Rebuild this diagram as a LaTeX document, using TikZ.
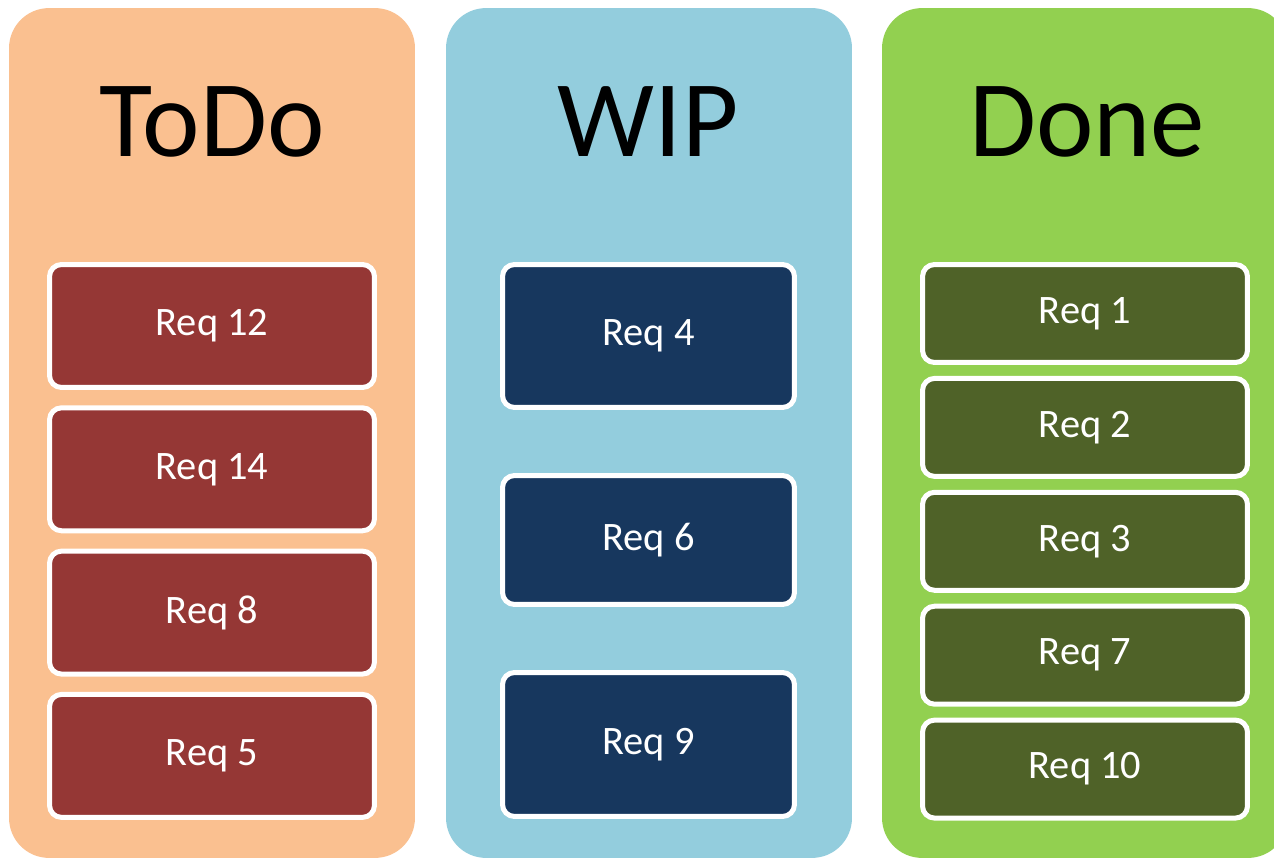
\documentclass[tikz,border=0pt]{standalone}
\usepackage{fontspec}
\setmainfont{Carlito}
\usetikzlibrary{positioning}

\definecolor{todobg}{HTML}{FAC090}
\definecolor{wipbg}{HTML}{93CDDD}
\definecolor{donebg}{HTML}{92D050}
\definecolor{todocard}{HTML}{953735}
\definecolor{wipcard}{HTML}{17375E}
\definecolor{donecard}{HTML}{4F6228}

\begin{document}
\begin{tikzpicture}[x=0.02cm, y=-0.02cm,
    column/.style={rounded corners=0.8cm, minimum width=8.12cm, minimum height=17cm, inner sep=0pt},
    title/.style={anchor=base, font=\fontsize{62}{70}\selectfont},
    card/.style={draw=white, line width=0.1cm, rounded corners=0.24cm, text=white,
                 font=\fontsize{23}{26}\selectfont, inner sep=0pt}]
    \useasboundingbox (0,0) rectangle (1274,858);
    \clip (0,0) rectangle (1274,858);

    % columns
    \node[column, fill=todobg] (todo) at (212,433) {};
    \node[column, fill=wipbg] (wip) at (649,433) {};
    \node[column, fill=donebg] (done) at (1085,433) {};

    \node[title] (todotitle) at (212,157) {ToDo};
    \node[title] (wiptitle) at (648,157) {WIP};
    \node[title] (donetitle) at (1087,157) {Done};

    % cards
    \foreach \req [count=\i] in {12,14,8,5}
      \node[card, fill=todocard, minimum width=6.5cm, minimum height=2.46cm]
        (todo\i) at (212,{326+143.3*(\i-1)}) {Req \req};

    \node[card, fill=wipcard, minimum width=5.84cm, minimum height=2.86cm] (wip1) at (648.5,336) {Req 4};
    \node[card, fill=wipcard, minimum width=5.84cm, minimum height=2.58cm] (wip2) at (648.5,540) {Req 6};
    \node[card, fill=wipcard, minimum width=5.84cm, minimum height=2.88cm] (wip3) at (648.5,744.5) {Req 9};

    \foreach \req [count=\i] in {1,2,3,7,10}
      \node[card, fill=donecard, minimum width=6.5cm, minimum height=1.96cm]
        (done\i) at (1085,{313.5+113.9*(\i-1)}) {Req \req};
  \end{tikzpicture}
\end{document}
